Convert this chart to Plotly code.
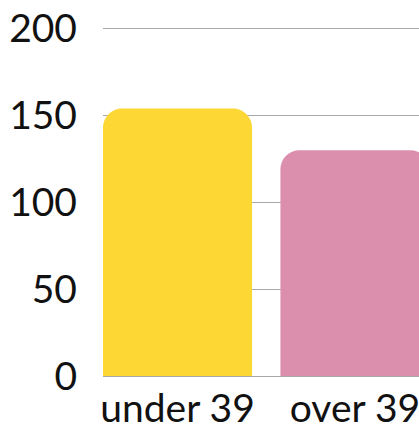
import plotly.graph_objects as go

categories = ["under 39", "over 39"]
values = [154, 130]
colors = ["#FDD835", "#DC8FAD"]
y_ticks = [0, 50, 100, 150, 200]

fig = go.Figure(
    go.Bar(
        x=categories,
        y=values,
        marker=dict(color=colors, cornerradius=19, line=dict(width=0)),
        hoverinfo="skip",
    )
)

fig.update_layout(
    width=419,
    height=425,
    margin=dict(l=103, r=0, t=27, b=49, autoexpand=False),
    paper_bgcolor="white",
    plot_bgcolor="white",
    bargap=0.16,
    showlegend=False,
    font=dict(family="Lato", size=39, color="#111111"),
)
fig.update_xaxes(
    type="category",
    range=[-0.42, 1.361],
    automargin=False,
    showgrid=False,
    showline=False,
    ticks="",
    ticklabelstandoff=6,
    fixedrange=True,
)
fig.update_yaxes(
    range=[0, 201],
    tickvals=y_ticks,
    automargin=False,
    showgrid=True,
    gridcolor="#a8a8a8",
    gridwidth=1,
    zeroline=True,
    zerolinecolor="#a8a8a8",
    zerolinewidth=1,
    showline=False,
    ticks="",
    ticklabelstandoff=25,
    fixedrange=True,
)

fig.write_html(
    "out.html",
    config={"displayModeBar": False},
    post_script="document.body.style.margin='0';document.body.style.overflow='hidden';",
)
